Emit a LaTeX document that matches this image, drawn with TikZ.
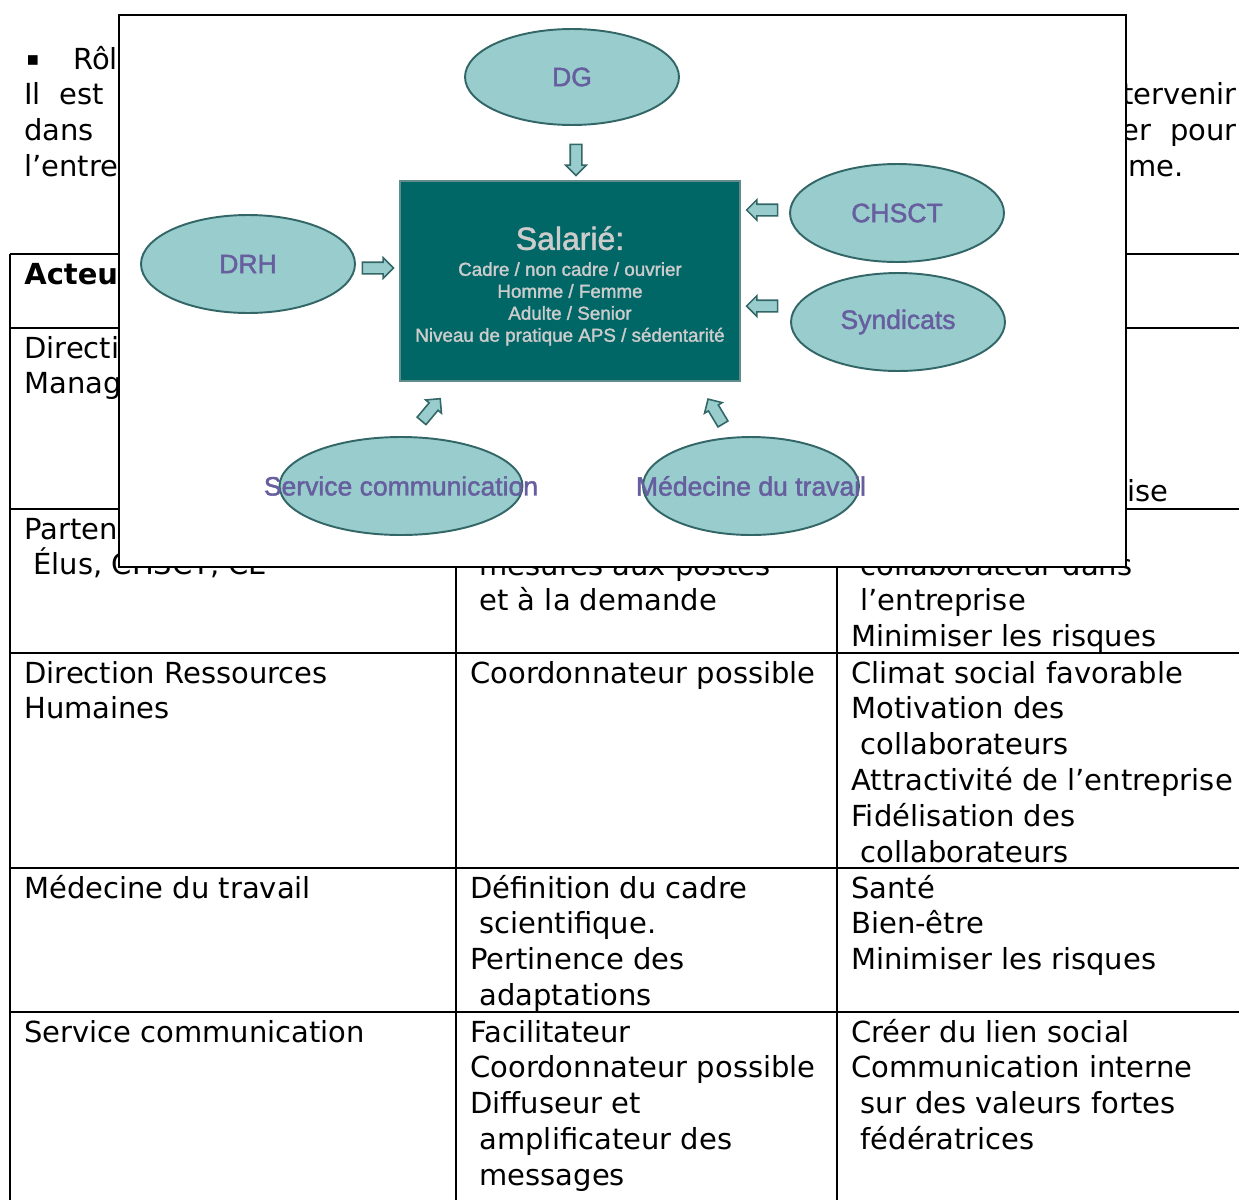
\documentclass[tikz,border=0pt]{standalone}
\usepackage{fontspec}
\setmainfont{DejaVu Sans}
\newfontfamily\diagfont[FakeBold=1.6]{Liberation Sans}
\usetikzlibrary{shapes.geometric,shapes.arrows}

\definecolor{actorfill}{RGB}{153,204,204}
\definecolor{actorline}{RGB}{51,102,102}
\definecolor{actortext}{RGB}{102,94,158}
\definecolor{salfill}{RGB}{0,102,102}
\definecolor{salline}{RGB}{96,140,140}
\definecolor{saltext}{RGB}{204,204,204}

\tikzset{
  pagetxt/.style={anchor=base west, inner sep=0pt, font=\fontsize{16.5pt}{20.4pt}\selectfont},
  rule/.style={line width=1.1pt},
  actor/.style={ellipse, draw=actorline, fill=actorfill, line width=1.1pt,
    minimum width=4.28cm, minimum height=1.96cm, inner sep=0pt,
    text=actortext, font=\diagfont\fontsize{15.1pt}{18pt}\selectfont},
  salbox/.style={rectangle, draw=salline, fill=salfill, line width=0.8pt,
    minimum width=6.8cm, minimum height=4cm, align=center, text=saltext,
    font=\diagfont\fontsize{10.7pt}{12.5pt}\selectfont},
  flow/.style={single arrow, draw=actorline, fill=actorfill, line width=0.9pt,
    minimum height=0.62cm, inner xsep=0pt, inner ysep=0.1cm,
    single arrow head extend=0.09cm, single arrow head indent=0pt},
}

% lines of one table cell, 35.8px apart
\newcommand\cellrows[4]{%
  \foreach \ln [count=\k from 0] in {#4}
    \node[pagetxt] (#1\k) at (#2,#3+35.8*\k) {\ln};}

\begin{document}
\begin{tikzpicture}[x=0.02cm, y=-0.02cm]
  \useasboundingbox (0,0) rectangle (1239,1200);

  % page text behind the figure
  \node[pagetxt, font=\fontsize{11pt}{12pt}\selectfont] (puce) at (26,65) {▪};
  \node[pagetxt] (role) at (73,69) {Rôl};
  \node[pagetxt] (par1) at (24,104) {Il\hspace{0.37cm}est};
  \node[pagetxt] (par2) at (24,140) {dans};
  \node[pagetxt] (par3) at (24,176) {l’entre};
  \node[pagetxt, anchor=base east] (par1r) at (1237,104) {tervenir};
  \node[pagetxt, anchor=base east] (par2r) at (1237,140) {er\hspace{0.37cm}pour};
  \node[pagetxt] (par3r) at (1128,176) {me.};

  % table
  \foreach \y in {254,328,509,653,868,1012}
    \draw[rule] (10,\y) -- (1239,\y);
  \foreach \x in {10,456,837}
    \draw[rule] (\x,254) -- (\x,1200);

  \node[pagetxt, font=\fontsize{16.5pt}{20.4pt}\selectfont\bfseries] (head) at (24,284) {Acteu};
  \cellrows{dir}{24}{358}{Directi,Manag}
  \node[pagetxt] (dirC) at (1127,501) {ise};
  \cellrows{part}{24}{539}{Parten,{\ Élus, CHSCT, CE}}
  \cellrows{partB}{470}{575}{{\ mesures aux postes},{\ et à la demande}}
  \cellrows{partC}{851}{575}{{\ collaborateur dans},{\ l’entreprise},Minimiser les risques}
  \cellrows{drh}{24}{683}{Direction Ressources,Humaines}
  \cellrows{drhB}{470}{683}{Coordonnateur possible}
  \cellrows{drhC}{851}{683}{Climat social favorable,Motivation des,{\ collaborateurs},Attractivité de l’entreprise,Fidélisation des,{\ collaborateurs}}
  \cellrows{med}{24}{898}{Médecine du travail}
  \cellrows{medB}{470}{898}{Définition du cadre,{\ scientifique.},Pertinence des,{\ adaptations}}
  \cellrows{medC}{851}{898}{Santé,Bien-être,Minimiser les risques}
  \cellrows{com}{24}{1042}{Service communication}
  \cellrows{comB}{470}{1042}{Facilitateur,Coordonnateur possible,Diffuseur et,{\ amplificateur des},{\ messages}}
  \cellrows{comC}{851}{1042}{Créer du lien social,Communication interne,{\ sur des valeurs fortes},{\ fédératrices}}

  % the figure pasted over the page
  \draw[fill=white, line width=1.1pt] (119,15) rectangle (1126,567);

  \node[salbox] (sal) at (570,281) {\rule{0pt}{19pt}{\fontsize{18.2pt}{20pt}\selectfont Salarié:}\\[2.3pt]
    Cadre / non cadre / ouvrier\\ Homme / Femme\\ Adulte / Senior\\
    Niveau de pratique APS / sédentarité};

  \node[actor, minimum height=1.92cm] (DG) at (572,77) {DG};
  \node[actor] (DRH) at (248,264) {DRH};
  \node[actor] (CHSCT) at (897,213) {CHSCT};
  \node[actor] (synd) at (898,322) {Syndicats};
  \node[actor, minimum width=4.86cm] (svcom) at (401,486) {\makebox[0pt]{Service communication}};
  \node[actor, minimum width=4.32cm] (medtrav) at (751,486) {\makebox[0pt]{Médecine du travail}};

  % block arrows towards the employee
  \node[flow, rotate=-90] (fDG) at (576,157) {};
  \node[flow] (fDRH) at (375,268) {};
  \node[flow, rotate=180] (fCHSCT) at (765,210) {};
  \node[flow, rotate=180] (fsynd) at (765,306) {};
  \node[flow, rotate=50, minimum height=0.58cm] (fsvcom) at (429,412) {};
  \node[flow, rotate=121, minimum height=0.58cm] (fmedtrav) at (717,414) {};
\end{tikzpicture}
\end{document}
